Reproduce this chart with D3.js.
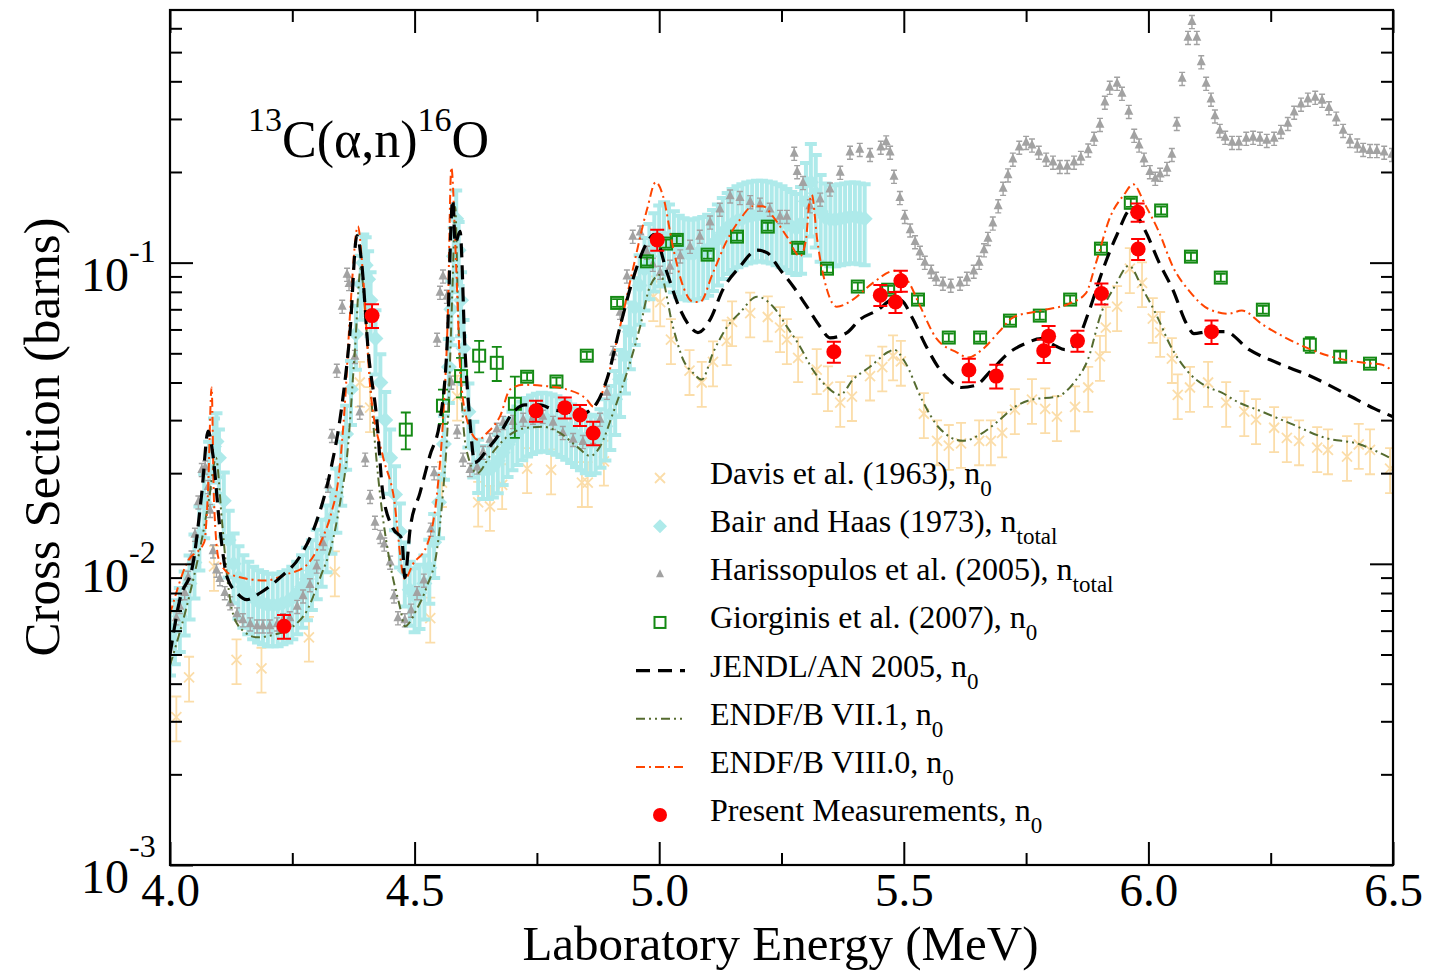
<!DOCTYPE html>
<html><head><meta charset="utf-8">
<script src="https://cdn.jsdelivr.net/npm/d3@7"></script>
<style>
body{margin:0;background:#fff;}
svg text{font-family:"Liberation Serif","Times New Roman",serif;fill:#000;}
</style></head>
<body><svg id="c" width="1432" height="971"></svg>
<script>
// ---------------- DATA ----------------
// Davis et al. (1963): [E (MeV), sigma (b)]
const davis = [[4.013,0.0031],[4.039,0.0042],[4.090,0.0098],[4.136,0.0048],[4.187,0.0045],[4.284,0.0057],[4.337,0.0094],[4.388,0.040],[4.409,0.033],[4.532,0.0066],[4.556,0.0186],[4.587,0.036],[4.630,0.0160],[4.654,0.0155],[4.679,0.0183],[4.730,0.0207],[4.779,0.0205],[4.842,0.0186],[4.854,0.0186],[4.887,0.0219],[4.988,0.077],[5.002,0.074],[5.024,0.0555],[5.062,0.0438],[5.087,0.0400],[5.110,0.0468],[5.138,0.0550],[5.149,0.0636],[5.186,0.0680],[5.222,0.0660],[5.247,0.0608],[5.261,0.0555],[5.284,0.0483],[5.322,0.0441],[5.345,0.0387],[5.370,0.0343],[5.394,0.0359],[5.431,0.0420],[5.456,0.0450],[5.478,0.0490],[5.494,0.0470],[5.541,0.0315],[5.568,0.0256],[5.592,0.0247],[5.617,0.0251],[5.654,0.0256],[5.678,0.0256],[5.701,0.0272],[5.727,0.0325],[5.762,0.0351],[5.789,0.0327],[5.813,0.0308],[5.850,0.0332],[5.877,0.0385],[5.901,0.0488],[5.913,0.0608],[5.936,0.0714],[5.962,0.0955],[5.987,0.0857],[6.009,0.0652],[6.024,0.0586],[6.048,0.0480],[6.060,0.0364],[6.085,0.0385],[6.122,0.0400],[6.159,0.0343],[6.196,0.0320],[6.220,0.0301],[6.257,0.0283],[6.283,0.0262],[6.308,0.0256],[6.345,0.0243],[6.367,0.0239],[6.406,0.0227],[6.430,0.0249],[6.453,0.0239],[6.494,0.0207]];
const davisErrPct = 17;

// Bair and Haas (1973): [E, sigma, err %]
const bair = [[4.000,0.0056,24],[4.010,0.0061,24],[4.020,0.0067,24],[4.030,0.0076,24],[4.040,0.0086,24],[4.050,0.0101,24],[4.060,0.0125,24],[4.070,0.0160,24],[4.080,0.0205,24],[4.090,0.0245,24],[4.095,0.0255,24],[4.100,0.0225,24],[4.110,0.0162,24],[4.120,0.0120,25],[4.130,0.0100,26],[4.140,0.0090,27],[4.150,0.0084,27],[4.160,0.0080,27],[4.170,0.0077,27],[4.180,0.0075,27],[4.190,0.0074,27],[4.200,0.0073,27],[4.210,0.0073,27],[4.220,0.0073,27],[4.230,0.0074,27],[4.240,0.0075,27],[4.250,0.0077,27],[4.260,0.0080,27],[4.270,0.0084,27],[4.280,0.0089,27],[4.290,0.0095,26],[4.300,0.0103,26],[4.310,0.0112,25],[4.320,0.0125,25],[4.330,0.0142,24],[4.340,0.0167,24],[4.350,0.0205,24],[4.360,0.0270,24],[4.370,0.0380,24],[4.380,0.0580,24],[4.390,0.0850,24],[4.395,0.1000,24],[4.400,0.0980,24],[4.405,0.0880,24],[4.410,0.0750,24],[4.420,0.0560,24],[4.430,0.0400,24],[4.440,0.0300,24],[4.450,0.0225,24],[4.460,0.0170,24],[4.470,0.0128,24],[4.480,0.0095,24],[4.490,0.0082,24],[4.500,0.0078,24],[4.510,0.0080,24],[4.520,0.0086,24],[4.530,0.0097,24],[4.540,0.0118,24],[4.550,0.0160,24],[4.560,0.0250,24],[4.570,0.0450,24],[4.575,0.0700,24],[4.580,0.1050,24],[4.585,0.1400,24],[4.590,0.1100,24],[4.595,0.0750,24],[4.600,0.0520,24],[4.610,0.0320,24],[4.620,0.0245,21],[4.630,0.0215,20],[4.640,0.0205,20],[4.650,0.0205,20],[4.660,0.0210,21],[4.670,0.0220,22],[4.680,0.0234,22],[4.690,0.0249,22],[4.700,0.0262,22],[4.710,0.0273,22],[4.720,0.0283,22],[4.730,0.0291,22],[4.740,0.0297,22],[4.750,0.0301,22],[4.760,0.0303,22],[4.770,0.0302,22],[4.780,0.0299,22],[4.790,0.0295,22],[4.800,0.0290,22],[4.810,0.0284,22],[4.820,0.0277,22],[4.830,0.0269,22],[4.840,0.0262,22],[4.850,0.0256,22],[4.860,0.0253,22],[4.870,0.0256,22],[4.880,0.0267,22],[4.890,0.0286,23],[4.900,0.0314,24],[4.910,0.0352,24],[4.920,0.0410,25],[4.930,0.0490,25],[4.940,0.0590,25],[4.950,0.0710,25],[4.960,0.0840,26],[4.970,0.0950,27],[4.980,0.1050,28],[4.990,0.1130,29],[5.000,0.1190,30],[5.010,0.1220,30],[5.020,0.1200,30],[5.030,0.1140,30],[5.040,0.1100,30],[5.050,0.1080,30],[5.060,0.1070,30],[5.070,0.1070,30],[5.080,0.1080,30],[5.090,0.1090,30],[5.100,0.1110,30],[5.110,0.1150,30],[5.120,0.1200,30],[5.130,0.1260,30],[5.140,0.1310,30],[5.150,0.1350,30],[5.160,0.1380,30],[5.170,0.1400,30],[5.180,0.1420,30],[5.190,0.1430,30],[5.200,0.1440,30],[5.210,0.1440,30],[5.220,0.1430,30],[5.230,0.1420,30],[5.240,0.1400,30],[5.250,0.1380,30],[5.260,0.1350,30],[5.270,0.1320,30],[5.280,0.1300,30],[5.290,0.1350,32],[5.300,0.1600,34],[5.310,0.1850,34],[5.320,0.1700,34],[5.330,0.1480,32],[5.340,0.1410,30],[5.350,0.1390,30],[5.360,0.1390,30],[5.370,0.1400,30],[5.380,0.1410,30],[5.390,0.1420,30],[5.400,0.1420,30],[5.410,0.1410,30],[5.420,0.1400,30]];

// Harissopulos et al. (2005): [E, sigma]
const hari = [[4.013,0.0066],[4.020,0.0072],[4.030,0.0080],[4.037,0.0090],[4.044,0.0105],[4.051,0.0125],[4.058,0.0160],[4.065,0.0205],[4.072,0.0209],[4.078,0.0180],[4.082,0.0150],[4.088,0.0110],[4.095,0.0095],[4.102,0.0089],[4.112,0.0080],[4.123,0.0074],[4.137,0.0068],[4.149,0.0065],[4.164,0.0063],[4.178,0.0062],[4.190,0.0062],[4.204,0.0062],[4.219,0.0063],[4.231,0.0065],[4.245,0.0066],[4.260,0.0072],[4.272,0.0078],[4.286,0.0085],[4.300,0.0098],[4.313,0.0117],[4.323,0.0182],[4.331,0.0266],[4.341,0.0438],[4.352,0.0714],[4.362,0.0912],[4.366,0.0850],[4.378,0.0487],[4.388,0.0318],[4.399,0.0222],[4.409,0.0167],[4.419,0.0137],[4.430,0.0123],[4.438,0.0116],[4.450,0.0101],[4.458,0.0078],[4.466,0.0066],[4.480,0.0065],[4.493,0.0070],[4.505,0.0080],[4.519,0.0088],[4.533,0.0130],[4.540,0.0200],[4.546,0.0555],[4.552,0.0795],[4.558,0.0900],[4.566,0.0771],[4.575,0.0400],[4.587,0.0275],[4.599,0.0222],[4.613,0.0205],[4.628,0.0209],[4.640,0.0234],[4.654,0.0258],[4.668,0.0279],[4.681,0.0294],[4.701,0.0296],[4.722,0.0301],[4.742,0.0306],[4.762,0.0308],[4.783,0.0294],[4.803,0.0272],[4.824,0.0258],[4.844,0.0254],[4.865,0.0264],[4.879,0.0301],[4.893,0.0370],[4.906,0.0502],[4.920,0.0682],[4.934,0.0900],[4.946,0.1220],[4.961,0.1260],[4.975,0.1080],[4.987,0.0985],[5.002,0.0926],[5.022,0.0970],[5.043,0.1050],[5.063,0.1130],[5.083,0.1220],[5.104,0.1360],[5.124,0.1500],[5.145,0.1660],[5.165,0.1640],[5.186,0.1590],[5.206,0.1560],[5.226,0.1500],[5.247,0.1420],[5.261,0.1420],[5.276,0.2300],[5.282,0.2000],[5.294,0.1840],[5.308,0.1540],[5.329,0.1620],[5.349,0.1750],[5.370,0.1990],[5.390,0.2320],[5.410,0.2370],[5.431,0.2280],[5.453,0.2410],[5.464,0.2510],[5.472,0.2320],[5.480,0.1930],[5.492,0.1640],[5.502,0.1420],[5.513,0.1280],[5.523,0.1170],[5.533,0.1080],[5.543,0.1000],[5.556,0.0934],[5.566,0.0885],[5.580,0.0852],[5.596,0.0839],[5.615,0.0852],[5.629,0.0885],[5.643,0.0934],[5.654,0.1000],[5.664,0.1100],[5.672,0.1200],[5.682,0.1350],[5.693,0.1540],[5.703,0.1760],[5.713,0.1950],[5.723,0.2200],[5.736,0.2410],[5.750,0.2500],[5.762,0.2450],[5.776,0.2320],[5.791,0.2200],[5.805,0.2150],[5.819,0.2080],[5.834,0.2080],[5.848,0.2150],[5.862,0.2230],[5.877,0.2360],[5.889,0.2580],[5.901,0.2870],[5.911,0.3400],[5.921,0.3810],[5.936,0.3930],[5.946,0.3640],[5.960,0.3170],[5.971,0.2640],[5.981,0.2450],[5.991,0.2200],[6.003,0.2000],[6.014,0.1900],[6.024,0.1960],[6.038,0.2050],[6.048,0.2280],[6.058,0.2890],[6.069,0.4080],[6.081,0.5580],[6.089,0.6300],[6.099,0.5580],[6.108,0.4630],[6.118,0.3930],[6.128,0.3480],[6.136,0.3060],[6.146,0.2740],[6.157,0.2600],[6.171,0.2500],[6.185,0.2500],[6.200,0.2580],[6.214,0.2600],[6.228,0.2580],[6.242,0.2540],[6.257,0.2580],[6.271,0.2720],[6.285,0.2890],[6.298,0.3150],[6.312,0.3350],[6.326,0.3480],[6.341,0.3530],[6.355,0.3450],[6.369,0.3260],[6.384,0.3010],[6.398,0.2740],[6.412,0.2540],[6.427,0.2450],[6.439,0.2370],[6.453,0.2350],[6.467,0.2350],[6.482,0.2320],[6.498,0.2280]];
const hariErrPct = 5;

// Giorginis et al. (2007): [E, sigma, err %]
const gior = [[4.482,0.0279,14],[4.558,0.0335,13],[4.595,0.0420,15],[4.632,0.0491,12],[4.668,0.0465,13],[4.705,0.0340,23],[4.730,0.0418,3],[4.790,0.0403,3],[4.852,0.0491,3],[4.914,0.0735,3],[4.975,0.1010,3],[5.014,0.1157,3],[5.036,0.1190,3],[5.099,0.1063,3],[5.159,0.1220,3],[5.222,0.1317,3],[5.284,0.1120,3],[5.343,0.0955,3],[5.406,0.0833,3],[5.468,0.0813,3],[5.529,0.0754,3],[5.592,0.0564,3],[5.656,0.0564,3],[5.717,0.0642,3],[5.778,0.0667,3],[5.840,0.0754,3],[5.903,0.1113,3],[5.964,0.1580,3],[6.026,0.1490,3],[6.087,0.1047,3],[6.148,0.0892,3],[6.234,0.0698,3],[6.330,0.0534,6],[6.392,0.0487,4],[6.453,0.0462,3]];

// JENDL/AN 2005 evaluated curve
const jendl = [[4.000,0.0050],[4.020,0.0076],[4.047,0.0100],[4.065,0.0172],[4.078,0.0276],[4.088,0.0228],[4.102,0.0131],[4.117,0.0090],[4.137,0.0080],[4.157,0.0076],[4.184,0.0080],[4.225,0.0090],[4.266,0.0106],[4.300,0.0139],[4.327,0.0200],[4.352,0.0341],[4.368,0.0590],[4.382,0.1230],[4.392,0.0990],[4.405,0.0514],[4.423,0.0299],[4.435,0.0172],[4.456,0.0131],[4.474,0.0121],[4.480,0.0090],[4.491,0.0131],[4.511,0.0172],[4.531,0.0228],[4.552,0.0299],[4.566,0.0514],[4.578,0.1620],[4.583,0.1160],[4.593,0.1270],[4.603,0.0514],[4.613,0.0299],[4.623,0.0217],[4.648,0.0239],[4.675,0.0272],[4.701,0.0318],[4.726,0.0337],[4.756,0.0337],[4.783,0.0325],[4.818,0.0318],[4.838,0.0308],[4.852,0.0318],[4.873,0.0343],[4.893,0.0409],[4.920,0.0613],[4.946,0.0878],[4.975,0.1165],[4.989,0.1240],[5.016,0.0926],[5.043,0.0698],[5.063,0.0613],[5.079,0.0586],[5.104,0.0647],[5.130,0.0813],[5.165,0.0970],[5.200,0.1100],[5.220,0.1080],[5.247,0.0948],[5.274,0.0833],[5.302,0.0714],[5.329,0.0613],[5.349,0.0563],[5.384,0.0586],[5.410,0.0647],[5.445,0.0693],[5.482,0.0760],[5.496,0.0748],[5.517,0.0657],[5.545,0.0530],[5.574,0.0441],[5.594,0.0406],[5.617,0.0385],[5.646,0.0391],[5.680,0.0441],[5.715,0.0502],[5.752,0.0542],[5.780,0.0559],[5.809,0.0530],[5.830,0.0514],[5.852,0.0542],[5.879,0.0693],[5.907,0.0948],[5.936,0.1240],[5.964,0.1500],[5.993,0.1280],[6.022,0.1000],[6.050,0.0813],[6.079,0.0622],[6.093,0.0581],[6.122,0.0590],[6.157,0.0590],[6.206,0.0514],[6.263,0.0465],[6.334,0.0418],[6.406,0.0365],[6.463,0.0327],[6.500,0.0308]];

// ENDF/B VII.1 evaluated curve
const endf71 = [[4.000,0.0046],[4.041,0.0080],[4.067,0.0125],[4.080,0.0165],[4.094,0.0225],[4.106,0.0140],[4.117,0.0090],[4.129,0.0068],[4.149,0.0060],[4.178,0.0057],[4.210,0.0058],[4.252,0.0062],[4.280,0.0070],[4.307,0.0090],[4.333,0.0120],[4.350,0.0168],[4.362,0.0228],[4.378,0.0514],[4.390,0.0960],[4.399,0.0676],[4.415,0.0299],[4.429,0.0172],[4.450,0.0100],[4.470,0.0072],[4.480,0.0062],[4.505,0.0071],[4.525,0.0084],[4.546,0.0112],[4.558,0.0172],[4.568,0.0299],[4.578,0.0885],[4.583,0.1530],[4.589,0.0676],[4.599,0.0299],[4.607,0.0235],[4.628,0.0200],[4.654,0.0228],[4.689,0.0264],[4.730,0.0283],[4.762,0.0285],[4.797,0.0272],[4.832,0.0245],[4.859,0.0228],[4.879,0.0245],[4.906,0.0318],[4.934,0.0431],[4.961,0.0613],[4.981,0.0833],[5.002,0.0912],[5.028,0.0613],[5.049,0.0476],[5.069,0.0431],[5.087,0.0409],[5.110,0.0502],[5.139,0.0613],[5.165,0.0682],[5.200,0.0771],[5.233,0.0714],[5.261,0.0613],[5.288,0.0526],[5.314,0.0441],[5.343,0.0387],[5.370,0.0364],[5.396,0.0409],[5.431,0.0451],[5.468,0.0505],[5.480,0.0514],[5.502,0.0469],[5.537,0.0351],[5.572,0.0283],[5.621,0.0256],[5.658,0.0270],[5.693,0.0298],[5.727,0.0332],[5.762,0.0351],[5.813,0.0359],[5.848,0.0400],[5.877,0.0480],[5.903,0.0676],[5.932,0.0838],[5.960,0.0977],[5.989,0.0813],[6.018,0.0662],[6.044,0.0534],[6.081,0.0434],[6.116,0.0390],[6.150,0.0370],[6.185,0.0343],[6.222,0.0325],[6.291,0.0292],[6.361,0.0262],[6.433,0.0249],[6.467,0.0236],[6.500,0.0222]];

// ENDF/B VIII.0 evaluated curve
const endf80 = [[4.000,0.0068],[4.035,0.0101],[4.070,0.0118],[4.078,0.0180],[4.085,0.0385],[4.090,0.0160],[4.100,0.0103],[4.125,0.0092],[4.195,0.0088],[4.235,0.0092],[4.276,0.0098],[4.310,0.0120],[4.330,0.0148],[4.344,0.0190],[4.358,0.0350],[4.368,0.0676],[4.384,0.1320],[4.395,0.0885],[4.409,0.0390],[4.435,0.0228],[4.456,0.0172],[4.480,0.0089],[4.497,0.0100],[4.525,0.0115],[4.546,0.0172],[4.558,0.0299],[4.568,0.0676],[4.575,0.2070],[4.585,0.0970],[4.593,0.0450],[4.607,0.0301],[4.630,0.0258],[4.648,0.0272],[4.675,0.0310],[4.695,0.0379],[4.722,0.0393],[4.762,0.0390],[4.812,0.0379],[4.852,0.0351],[4.865,0.0333],[4.893,0.0409],[4.920,0.0613],[4.946,0.0948],[4.975,0.1500],[4.993,0.1850],[5.008,0.1660],[5.028,0.1130],[5.049,0.0833],[5.069,0.0742],[5.083,0.0740],[5.110,0.0926],[5.139,0.1190],[5.165,0.1390],[5.192,0.1540],[5.212,0.1540],[5.233,0.1420],[5.261,0.1220],[5.288,0.1050],[5.300,0.1190],[5.306,0.1540],[5.312,0.1680],[5.323,0.1190],[5.343,0.0813],[5.363,0.0714],[5.396,0.0754],[5.437,0.0857],[5.482,0.0940],[5.511,0.0857],[5.531,0.0731],[5.567,0.0559],[5.609,0.0503],[5.631,0.0484],[5.660,0.0514],[5.695,0.0590],[5.723,0.0657],[5.780,0.0693],[5.838,0.0731],[5.872,0.0790],[5.893,0.1000],[5.922,0.1420],[5.950,0.1680],[5.969,0.1820],[5.993,0.1560],[6.022,0.1260],[6.050,0.0970],[6.085,0.0800],[6.122,0.0703],[6.163,0.0677],[6.191,0.0693],[6.234,0.0622],[6.300,0.0543],[6.369,0.0490],[6.441,0.0465],[6.476,0.0459],[6.500,0.0435]];

// Present measurements: [E, sigma, err %]
const present = [[4.233,0.0062,9],[4.413,0.0667,9],[4.748,0.0322,8],[4.807,0.0330,8],[4.838,0.0312,8],[4.865,0.0272,9],[4.996,0.1190,8],[5.357,0.0506,8],[5.452,0.0780,8],[5.483,0.0740,8],[5.494,0.0870,8],[5.633,0.0440,9],[5.689,0.0420,9],[5.786,0.0510,9],[5.796,0.0570,8],[5.855,0.0550,8],[5.904,0.0790,8],[5.978,0.1470,7],[5.979,0.1110,8],[6.129,0.0590,9]];

// Axes
const xMajor = [4.0,4.5,5.0,5.5,6.0,6.5];
const xMajorLabels = ["4.0","4.5","5.0","5.5","6.0","6.5"];
const xMinor = [4.25,4.75,5.25,5.75,6.25];
const yMajor = [1e-3,1e-2,1e-1];
const yMajorExp = ["-3","-2","-1"];
const yMinor = [2e-3,3e-3,4e-3,5e-3,6e-3,7e-3,8e-3,9e-3,2e-2,3e-2,4e-2,5e-2,6e-2,7e-2,8e-2,9e-2,2e-1,3e-1,4e-1,5e-1,6e-1];
const xTitle = "Laboratory Energy (MeV)";
const yTitle = "Cross Section (barns)";
const legendLabels = [
  ["Davis et al. (1963), n","0"],
  ["Bair and Haas (1973), n","total"],
  ["Harissopulos et al. (2005), n","total"],
  ["Giorginis et al. (2007), n","0"],
  ["JENDL/AN 2005, n","0"],
  ["ENDF/B VII.1, n","0"],
  ["ENDF/B VIII.0, n","0"],
  ["Present Measurements, n","0"]
];

// ---------------- DRAW ----------------
const L=170, R=1393, T=10, B=865;
const svg = d3.select("#c");
const x = d3.scaleLinear().domain([4,6.5]).range([L,R]);
const y = d3.scaleLog().domain([1e-3,0.69]).range([B,T]);

const C = {davis:"#FBDDA9", bair:"#AEEAEA", hari:"#A2A2A2", gior:"#148A14", jendl:"#000", e71:"#556B2F", e80:"#FF4500", pres:"#FF0000"};

svg.append("defs").append("clipPath").attr("id","clip")
  .append("rect").attr("x",L).attr("y",T).attr("width",R-L).attr("height",B-T);
const plot = svg.append("g").attr("clip-path","url(#clip)");

function errBars(g, data, lo, hi, color, cap, sw){
  const eg = g.append("g").attr("stroke",color).attr("stroke-width",sw).attr("fill","none");
  data.forEach(d=>{
    const px=x(d[0]), y1=y(lo(d)), y2=y(hi(d));
    eg.append("path").attr("d",`M${px},${y1}V${y2}M${px-cap},${y1}H${px+cap}M${px-cap},${y2}H${px+cap}`);
  });
}

// Davis
const gD = plot.append("g");
errBars(gD, davis, d=>d[1]*(1-davisErrPct/100), d=>d[1]*(1+davisErrPct/100), C.davis, 5, 1.8);
gD.selectAll("path.m").data(davis).join("path").attr("class","m")
  .attr("d",d=>{const px=x(d[0]),py=y(d[1]);return `M${px-5},${py-5}L${px+5},${py+5}M${px-5},${py+5}L${px+5},${py-5}`;})
  .attr("stroke",C.davis).attr("stroke-width",1.8).attr("fill","none");

// Bair
const gB = plot.append("g");
errBars(gB, bair, d=>d[1]*(1-d[2]/100), d=>d[1]*(1+d[2]/100), C.bair, 6, 4);
gB.selectAll("path.m").data(bair).join("path").attr("class","m")
  .attr("d",d=>{const px=x(d[0]),py=y(d[1]);return `M${px},${py-8}L${px+8},${py}L${px},${py+8}L${px-8},${py}Z`;})
  .attr("fill",C.bair);

// Harissopulos
const gH = plot.append("g");
errBars(gH, hari, d=>d[1]*(1-hariErrPct/100), d=>d[1]*(1+hariErrPct/100), C.hari, 3, 1.4);
gH.selectAll("path.m").data(hari).join("path").attr("class","m")
  .attr("d",d=>{const px=x(d[0]),py=y(d[1]);return `M${px},${py-6}L${px+4.5},${py+3}L${px-4.5},${py+3}Z`;})
  .attr("fill",C.hari);

// Giorginis
const gG = plot.append("g");
errBars(gG, gior, d=>d[1]*(1-d[2]/100), d=>d[1]*(1+d[2]/100), C.gior, 5, 1.8);
gG.selectAll("rect").data(gior).join("rect")
  .attr("x",d=>x(d[0])-6).attr("y",d=>y(d[1])-6).attr("width",12).attr("height",12)
  .attr("fill","none").attr("stroke",C.gior).attr("stroke-width",2);

// Curves
const line = d3.line().x(d=>x(d[0])).y(d=>y(d[1])).curve(d3.curveMonotoneX);
plot.append("path").datum(endf71).attr("d",line).attr("fill","none")
  .attr("stroke",C.e71).attr("stroke-width",2).attr("stroke-dasharray","9,4,2,4,2,4");
plot.append("path").datum(endf80).attr("d",line).attr("fill","none")
  .attr("stroke",C.e80).attr("stroke-width",2).attr("stroke-dasharray","9,4,2,4");
plot.append("path").datum(jendl).attr("d",line).attr("fill","none")
  .attr("stroke",C.jendl).attr("stroke-width",3.2).attr("stroke-dasharray","14,8");

// Present
const gP = plot.append("g");
errBars(gP, present, d=>d[1]*(1-d[2]/100), d=>d[1]*(1+d[2]/100), C.pres, 7, 2);
gP.selectAll("circle").data(present).join("circle")
  .attr("cx",d=>x(d[0])).attr("cy",d=>y(d[1])).attr("r",7.5).attr("fill",C.pres);

// ---------- Axes ----------
function styleAxis(g){
  g.select(".domain").remove();
  g.selectAll("line").attr("stroke","#000").attr("stroke-width",2);
  g.attr("font-family","Liberation Serif, Times New Roman, serif");
  return g;
}
styleAxis(svg.append("g").attr("transform",`translate(0,${B})`)
  .call(d3.axisBottom(x).tickValues(xMajor).tickSize(-23).tickPadding(7.6).tickFormat((d,i)=>xMajorLabels[i])))
  .attr("font-size",47).selectAll("text").attr("fill","#000");
styleAxis(svg.append("g").attr("transform",`translate(0,${B})`)
  .call(d3.axisBottom(x).tickValues(xMinor).tickSize(-12).tickFormat("")));
styleAxis(svg.append("g").attr("transform",`translate(0,${T})`)
  .call(d3.axisTop(x).tickValues(xMajor).tickSize(-23).tickFormat("")));
styleAxis(svg.append("g").attr("transform",`translate(0,${T})`)
  .call(d3.axisTop(x).tickValues(xMinor).tickSize(-12).tickFormat("")));
styleAxis(svg.append("g").attr("transform",`translate(${L},0)`)
  .call(d3.axisLeft(y).tickValues(yMajor).tickSize(-23).tickFormat("")));
styleAxis(svg.append("g").attr("transform",`translate(${L},0)`)
  .call(d3.axisLeft(y).tickValues(yMinor).tickSize(-12).tickFormat("")));
styleAxis(svg.append("g").attr("transform",`translate(${R},0)`)
  .call(d3.axisRight(y).tickValues(yMajor).tickSize(-23).tickFormat("")));
styleAxis(svg.append("g").attr("transform",`translate(${R},0)`)
  .call(d3.axisRight(y).tickValues(yMinor).tickSize(-12).tickFormat("")));

// y tick labels 10^n
yMajor.forEach((v,i)=>{
  const t = svg.append("text").attr("x",81).attr("y",y(v)+28).attr("font-size",48);
  t.append("tspan").text("10");
  t.append("tspan").attr("font-size",32).attr("dy", i===0 ? -36 : -29).text(yMajorExp[i]);
});

// frame
svg.append("rect").attr("x",L).attr("y",T).attr("width",R-L).attr("height",B-T)
  .attr("fill","none").attr("stroke","#000").attr("stroke-width",2.2);

// axis titles
svg.append("text").attr("x",(L+R)/2-1).attr("y",960).attr("text-anchor","middle").attr("font-size",49).text(xTitle);
svg.append("text").attr("transform","translate(59,437) rotate(-90)").attr("text-anchor","middle").attr("font-size",51).text(yTitle);

// reaction title
const tt = svg.append("text").attr("x",248).attr("y",157).attr("font-size",52);
tt.append("tspan").attr("font-size",34).attr("dy",-26).text("13");
tt.append("tspan").attr("dy",26).text("C(α,n)");
tt.append("tspan").attr("font-size",34).attr("dy",-26).text("16");
tt.append("tspan").attr("dy",26).text("O");

// ---------- Legend ----------
const lgX = 660, txX = 710, base0 = 484, step = 48.15;
legendLabels.forEach((lab,i)=>{
  const by = base0 + i*step, my = by - 6;
  const g = svg.append("g");
  if(i===0){
    g.append("path").attr("d",`M${lgX-5},${my-5}L${lgX+5},${my+5}M${lgX-5},${my+5}L${lgX+5},${my-5}`)
      .attr("stroke",C.davis).attr("stroke-width",1.8);
  } else if(i===1){
    g.append("path").attr("d",`M${lgX},${my-7}L${lgX+7},${my}L${lgX},${my+7}L${lgX-7},${my}Z`).attr("fill",C.bair);
  } else if(i===2){
    g.append("path").attr("d",`M${lgX},${my-5}L${lgX+4},${my+3}L${lgX-4},${my+3}Z`).attr("fill",C.hari);
  } else if(i===3){
    g.append("rect").attr("x",lgX-5.5).attr("y",my-5.5).attr("width",11).attr("height",11)
      .attr("fill","none").attr("stroke",C.gior).attr("stroke-width",2);
  } else if(i===4){
    g.append("line").attr("x1",636).attr("x2",685).attr("y1",my).attr("y2",my)
      .attr("stroke",C.jendl).attr("stroke-width",3.2).attr("stroke-dasharray","14,8");
  } else if(i===5){
    g.append("line").attr("x1",636).attr("x2",685).attr("y1",my).attr("y2",my)
      .attr("stroke",C.e71).attr("stroke-width",2).attr("stroke-dasharray","9,4,2,4,2,4");
  } else if(i===6){
    g.append("line").attr("x1",636).attr("x2",685).attr("y1",my).attr("y2",my)
      .attr("stroke",C.e80).attr("stroke-width",2).attr("stroke-dasharray","9,4,2,4");
  } else {
    g.append("circle").attr("cx",lgX).attr("cy",my).attr("r",7).attr("fill",C.pres);
  }
  const t = svg.append("text").attr("x",txX).attr("y",by).attr("font-size",32);
  t.append("tspan").text(lab[0]);
  t.append("tspan").attr("font-size",23).attr("dy",12).text(lab[1]);
});
</script>
</body></html>
